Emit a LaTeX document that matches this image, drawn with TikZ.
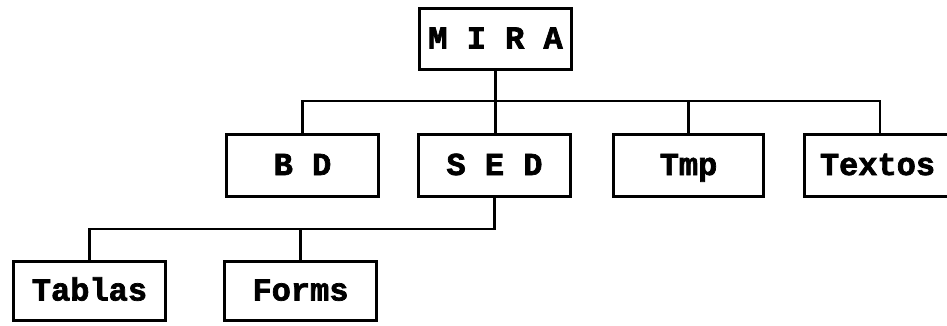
\documentclass[tikz,border=0pt]{standalone}
\usepackage{fontspec}
\setmonofont{Liberation Mono}[BoldFeatures={FakeBold=2.2}]
\begin{document}
\begin{tikzpicture}[x=1pt,y=-1pt,
  box/.style={draw, line width=2.6pt, font=\ttfamily\bfseries\fontsize{32}{32}\selectfont, inner sep=0pt, text height=19pt, text depth=0pt, anchor=center, minimum width=152pt, minimum height=62pt},
  conn/.style={line width=2.6pt, line join=miter}]
\useasboundingbox (0,0) rectangle (947,325);
\clip (0,0) rectangle (947,325);
\node[box, minimum height=61pt] (mira) at (495.5,39) {M I R A};
\node[box] (bd) at (302.5,165.5) {B D};
\node[box] (sed) at (494.5,165.5) {S E D};
\node[box, minimum width=150pt] (tmp) at (688.5,165.5) {Tmp};
\node[box, minimum width=146pt] (textos) at (877.5,165.5) {Textos};
\node[box, minimum height=59pt] (tablas) at (89.5,291) {Tablas};
\node[box, minimum height=59pt] (forms) at (300.5,291) {Forms};
\coordinate (b1) at (0,101);
\coordinate (b2) at (0,229);
\coordinate (txtop) at ([xshift=2.5pt]textos.north);
\draw[conn] (mira.south) -- (mira.south |- sed.north);
\draw[conn] (bd.north) -- (bd.north |- b1) -- (b1 -| txtop) -- (txtop);
\draw[conn] (tmp.north) -- (tmp.north |- b1);
\draw[conn] (sed.south) -- (sed.south |- b2) -- (b2 -| tablas.north) -- (tablas.north);
\draw[conn] (forms.north) -- (forms.north |- b2);
\end{tikzpicture}
\end{document}
